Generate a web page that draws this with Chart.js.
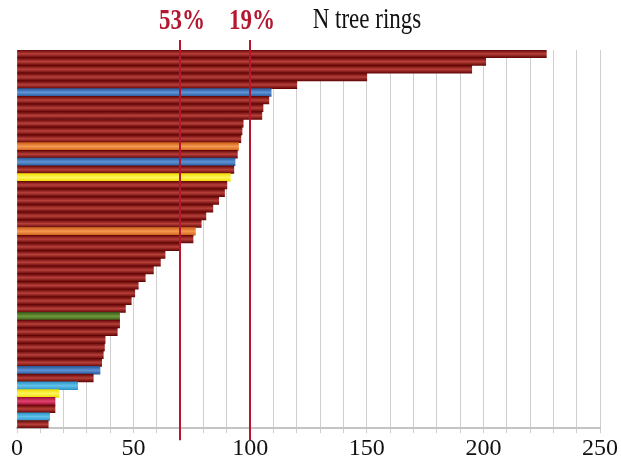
<!DOCTYPE html>
<html>
<head>
<meta charset="utf-8">
<script src="https://cdn.jsdelivr.net/npm/chart.js@4.4.1/dist/chart.umd.min.js"></script>
<style>
  html, body { margin: 0; padding: 0; background: #fff; }
  #wrap { width: 621px; height: 472px; }
</style>
</head>
<body>
<div id="wrap"><canvas id="ringsChart"></canvas></div>
<script>
  // one bar per site, sorted by number of tree rings
  const sites = [
    "1", "2", "3", "4", "5", "6", "7", "8", "9", "10",
    "11", "12", "13", "14", "15", "16", "17", "18", "19", "20",
    "21", "22", "23", "24", "25", "26", "27", "28", "29", "30",
    "31", "32", "33", "34", "35", "36", "37", "38", "39", "40",
    "41", "42", "43", "44", "45", "46", "47", "48", "49",
  ];
  const rings = [
    227, 201, 195, 150, 120, 109, 108, 105.5, 105, 97,
    96.5, 96, 95, 94.5, 93.5, 93, 91.5, 90, 89, 86.5,
    84, 81, 79, 76.5, 75.5, 70, 63.5, 61.5, 58.5, 55,
    52, 50.5, 49, 46.5, 44, 44, 43, 37.8, 37.5, 37,
    36.3, 35.6, 32.7, 26, 18, 16.3, 16.3, 14, 13.4,
  ];
  // group code of each site
  const groups = [
    "r", "r", "r", "r", "r", "b", "r", "r", "r", "r",
    "r", "r", "o", "r", "b", "r", "y", "r", "r", "r",
    "r", "r", "r", "o", "r", "r", "r", "r", "r", "r",
    "r", "r", "r", "r", "g", "r", "r", "r", "r", "r",
    "r", "b", "r", "c", "y", "p", "r", "c", "r",
  ];
  const xTicks = [0, 50, 100, 150, 200, 250];
  const marks = [70, 100];
  const markLabels = ["53%", "19%"];

  const palette = {
    r: ["#640606", "#b8403a"],
    b: ["#2a5c9c", "#5f93d6"],
    o: ["#cf6219", "#f59a52"],
    y: ["#eedc00", "#fff45c"],
    g: ["#3c5a1c", "#6f9a3a"],
    c: ["#2c96c8", "#62c2ea"],
    p: ["#a00e38", "#e2446c"],
  };

  function barFill(c) {
    const pair = palette[groups[c.dataIndex]] || palette.r;
    const ys = c.chart.scales.y;
    if (c.type !== "data" || !ys) return pair[0];
    const y0 = ys.getPixelForValue(c.dataIndex);
    const h = ys.getPixelForValue(1) - ys.getPixelForValue(0);
    if (!isFinite(y0) || !isFinite(h) || h === 0) return pair[0];
    const g = c.chart.ctx.createLinearGradient(0, y0 - h / 2, 0, y0 + h / 2);
    g.addColorStop(0, pair[0]);
    g.addColorStop(0.5, pair[1]);
    g.addColorStop(1, pair[0]);
    return g;
  }

  // stretched serif text, like the tall lettering of the original figure
  function tallText(ctx, text, x, y, font, color) {
    ctx.save();
    ctx.font = font;
    ctx.fillStyle = color;
    ctx.textAlign = "center";
    ctx.textBaseline = "middle";
    ctx.translate(x, y);
    ctx.scale(1, 1.25);
    ctx.fillText(text, 0, 0);
    ctx.restore();
  }

  const overlay = {
    id: "overlay",
    afterDatasetsDraw(chart) {
      const { ctx, chartArea, scales } = chart;
      ctx.save();
      ctx.strokeStyle = "#b51730";
      ctx.lineWidth = 2;
      marks.forEach((m, i) => {
        const x = Math.round(scales.x.getPixelForValue(m));
        ctx.beginPath();
        ctx.moveTo(x, chartArea.top - 10);
        ctx.lineTo(x, chartArea.bottom + 12);
        ctx.stroke();
        tallText(ctx, markLabels[i], x + 2, 22, "bold 23px 'Liberation Serif'", "#b51730");
      });
      tallText(ctx, "N tree rings", 367, 20, "23px 'Liberation Serif'", "#111");
      ctx.restore();
    },
  };

  const chartEl = document.getElementById("ringsChart");

  new Chart(chartEl, {
    type: "bar",
    data: {
      labels: sites,
      datasets: [
        {
          label: "N tree rings",
          data: rings,
          backgroundColor: barFill,
          borderWidth: 0,
          barPercentage: 1,
          categoryPercentage: 1,
        },
      ],
    },
    options: {
      indexAxis: "y",
      responsive: true,
      maintainAspectRatio: false,
      animation: false,
      layout: {
        padding: { left: 17, right: 21, top: 50, bottom: 8 },
      },
      scales: {
        x: {
          min: 0,
          max: 250,
          grid: {
            color: "#cfcfcf",
            lineWidth: 1,
            tickLength: 5,
          },
          border: { color: "#c4c4c4", width: 2 },
          ticks: {
            stepSize: 10,
            autoSkip: false,
            maxRotation: 0,
            color: "#111",
            font: { family: "'Liberation Serif'", size: 24 },
            padding: 1,
            callback: (v) => (xTicks.includes(v) ? String(v) : ""),
          },
        },
        y: {
          display: false,
          grid: { drawOnChartArea: false },
        },
      },
      plugins: {
        legend: { display: false },
        tooltip: { enabled: false },
      },
    },
    plugins: [overlay],
  });
</script>
</body>
</html>
